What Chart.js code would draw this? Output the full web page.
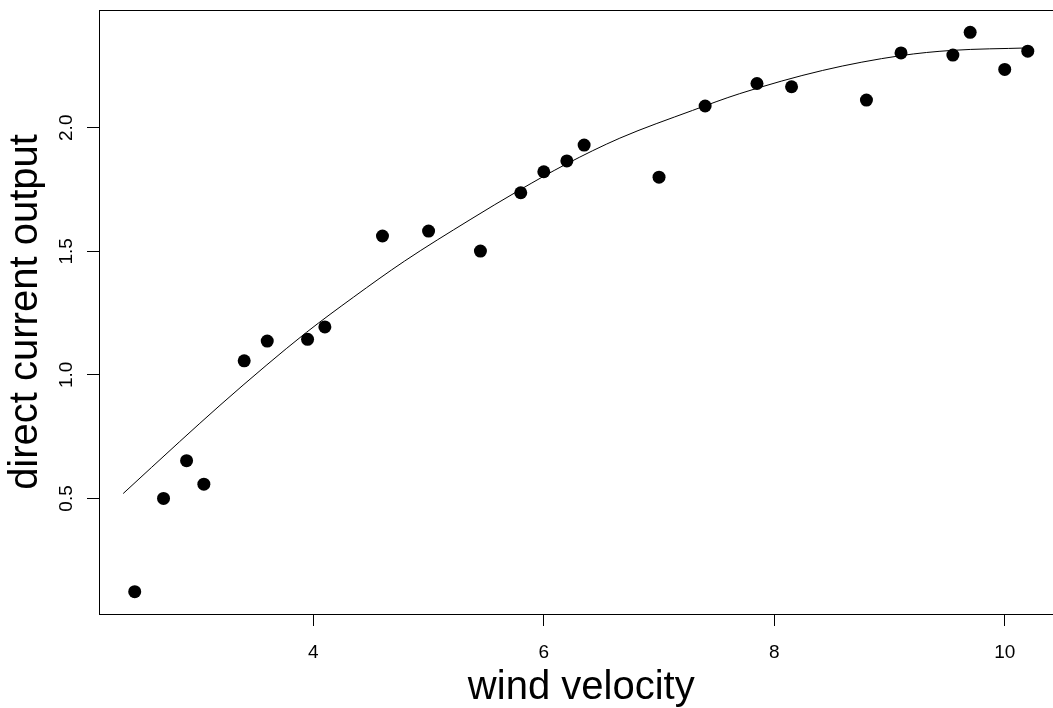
<!DOCTYPE html>
<html>
<head>
<meta charset="utf-8">
<script src="https://cdn.jsdelivr.net/npm/chart.js@4/dist/chart.umd.min.js"></script>
<style>
  html, body { margin: 0; padding: 0; background: #fff; overflow: hidden; }
  #wrap { width: 1053px; height: 708px; overflow: hidden; }
</style>
</head>
<body>
<div id="wrap"><canvas id="grafica" width="1070" height="708"></canvas></div>
<script>
// datos del molino: velocidad del viento vs salida de corriente continua
const velocidad = [5.00, 6.00, 3.40, 2.70, 10.00, 9.70, 9.55, 3.05, 8.15, 6.20, 2.90, 6.35, 4.60,
  5.80, 7.40, 3.60, 7.85, 8.80, 7.00, 5.45, 9.10, 10.20, 4.10, 3.95, 2.45];
const salida = [1.582, 1.822, 1.057, 0.500, 2.236, 2.386, 2.294, 0.558, 2.166, 1.866, 0.653, 1.930, 1.562,
  1.737, 2.088, 1.137, 2.179, 2.112, 1.800, 1.501, 2.303, 2.310, 1.194, 1.144, 0.123];

// curva ajustada
const curvaX = [2.35, 2.84, 3.19, 3.59, 3.94, 4.35, 4.79, 5.36, 5.79, 6.19, 6.66, 7.29, 7.70, 8.42, 9.10, 9.54, 10.2];
const curvaY = [0.52, 0.73, 0.877, 1.038, 1.172, 1.315, 1.46, 1.628, 1.748, 1.852, 1.958, 2.070, 2.138, 2.232, 2.292, 2.313, 2.323];

const ticksX = [4, 6, 8, 10];
const ticksY = [0.5, 1.0, 1.5, 2.0];

const fuente = '"Liberation Sans", Arial, Helvetica, sans-serif';

// caja alrededor del area y etiquetas del eje y giradas (como en R)
const cajaYEtiquetas = {
  id: 'cajaYEtiquetas',
  afterDraw(chart) {
    const { ctx, chartArea: a, scales } = chart;
    ctx.save();
    ctx.strokeStyle = '#000';
    ctx.lineWidth = 1;
    ctx.strokeRect(a.left + 0.5, a.top + 0.5, a.right - a.left, a.bottom - a.top);
    ctx.fillStyle = '#000';
    ctx.font = '19px ' + fuente;
    ctx.textAlign = 'center';
    ctx.textBaseline = 'alphabetic';
    scales.y.ticks.forEach(t => {
      const y = scales.y.getPixelForValue(t.value);
      ctx.save();
      ctx.translate(72, y);
      ctx.rotate(-Math.PI / 2);
      ctx.fillText(t.value.toFixed(1), 0, 0);
      ctx.restore();
    });
    ctx.restore();
  }
};

const ctx = document.getElementById('grafica').getContext('2d');
new Chart(ctx, {
  type: 'scatter',
  data: {
    datasets: [{
      label: 'observado',
      data: velocidad.map((v, i) => ({ x: v, y: salida[i] })),
      backgroundColor: '#000',
      borderColor: '#000',
      pointRadius: 6.5,
      pointHoverRadius: 6.5,
      borderWidth: 0
    }, {
      label: 'ajuste',
      data: curvaX.map((v, i) => ({ x: v, y: curvaY[i] })),
      showLine: true,
      borderColor: '#000',
      borderWidth: 1,
      pointRadius: 0,
      cubicInterpolationMode: 'monotone',
      fill: false
    }]
  },
  options: {
    responsive: false,
    animation: false,
    devicePixelRatio: 1,
    layout: { padding: { top: 10, right: 5, left: 0, bottom: 0 } },
    plugins: {
      legend: { display: false },
      tooltip: { enabled: false }
    },
    scales: {
      x: {
        type: 'linear',
        min: 2.14,
        max: 10.51,
        afterBuildTicks: s => { s.ticks = ticksX.map(v => ({ value: v })); },
        afterFit: s => { s.height = 94; },
        grid: { drawOnChartArea: false, color: '#000', tickLength: 12 },
        border: { display: true, color: '#000' },
        ticks: {
          color: '#000',
          font: { family: fuente, size: 19 },
          padding: 15,
          maxRotation: 0,
          callback: v => String(v)
        },
        title: {
          display: true,
          text: 'wind velocity',
          color: '#000',
          font: { family: fuente, size: 40, lineHeight: 1 },
          padding: 0
        }
      },
      y: {
        type: 'linear',
        min: 0.0325,
        max: 2.4765,
        afterBuildTicks: s => { s.ticks = ticksY.map(v => ({ value: v })); },
        afterFit: s => { s.width = 99; },
        grid: { drawOnChartArea: false, color: '#000', tickLength: 12 },
        border: { display: true, color: '#000' },
        ticks: { display: false },
        title: {
          display: true,
          text: 'direct current output',
          color: '#000',
          font: { family: fuente, size: 40, lineHeight: 1 },
          padding: { top: 6, bottom: 0 }
        }
      }
    }
  },
  plugins: [cajaYEtiquetas]
});
</script>
</body>
</html>
